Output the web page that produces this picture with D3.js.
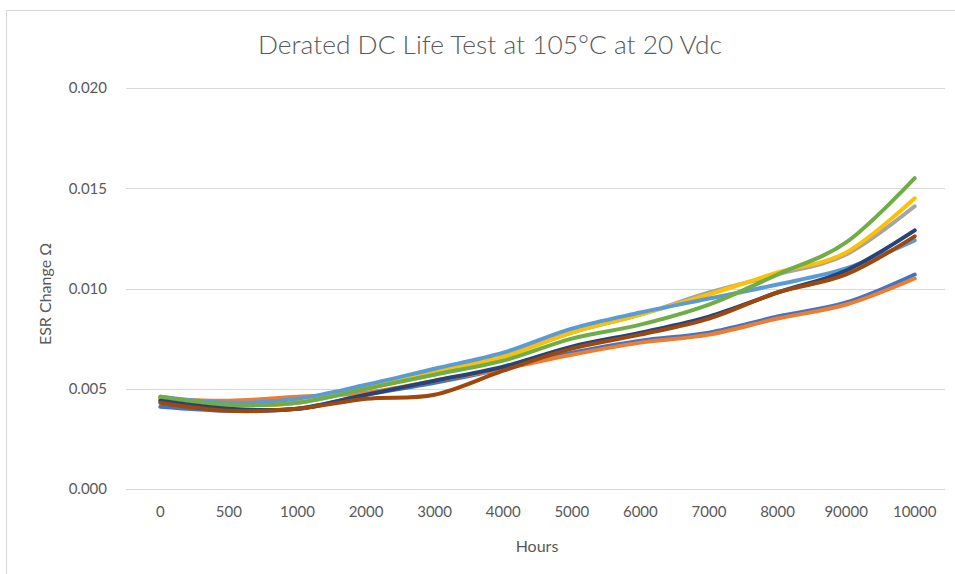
<!DOCTYPE html>
<html><head><meta charset="utf-8">
<script src="https://cdn.jsdelivr.net/npm/d3@7"></script>
<style>body{margin:0;background:#fff;} svg{display:block;} text{font-family:Lato,"Open Sans",sans-serif;fill:#595959;}</style>
</head><body><svg id="c" width="955" height="574"></svg>
<script>
const categories = ["0","500","1000","2000","3000","4000","5000","6000","7000","8000","90000","10000"];
const s1 = [0.0041,0.0039,0.0040,0.0047,0.0053,0.0060,0.0068,0.0074,0.0078,0.0086,0.0093,0.0107];
const s2 = [0.0045,0.0044,0.0046,0.0048,0.0054,0.0060,0.0067,0.0073,0.0077,0.0085,0.0092,0.0105];
const s3 = [0.0045,0.0042,0.0043,0.0050,0.0058,0.0066,0.0078,0.0087,0.0098,0.0107,0.0117,0.0141];
const s4 = [0.0045,0.0042,0.0043,0.0051,0.0059,0.0066,0.0078,0.0087,0.0097,0.0108,0.0118,0.0145];
const s5 = [0.0046,0.0043,0.0045,0.0052,0.0060,0.0068,0.0080,0.0088,0.0095,0.0102,0.0110,0.0124];
const s6 = [0.0046,0.0042,0.0043,0.0050,0.0057,0.0064,0.0075,0.0082,0.0092,0.0107,0.0123,0.0155];
const s7 = [0.0044,0.0040,0.0040,0.0047,0.0054,0.0061,0.0071,0.0078,0.0086,0.0098,0.0109,0.0129];
const s8 = [0.0043,0.0039,0.0040,0.0045,0.0047,0.0059,0.0070,0.0077,0.0085,0.0098,0.0107,0.0126];
const yTicks = [0, 0.005, 0.010, 0.015, 0.020];
const colors = ["#4472C4","#ED7D31","#A5A5A5","#FFC000","#5B9BD5","#70AD47","#264478","#9E480E"];
const allSeries = [s1,s2,s3,s4,s5,s6,s7,s8];

(function(){
const svg = d3.select("#c");
svg.append("rect").attr("x",6.5).attr("y",10.5).attr("width",1000).attr("height",1000)
  .attr("fill","#fff").attr("stroke","#d9d9d9").attr("stroke-width",1);

const pL = 126, pR = 949, pT = 88, pB = 489;
const x = d3.scaleBand().domain(categories).range([pL, pR]);
const y = d3.scaleLinear().domain([0, 0.020]).range([pB, pT]);

svg.append("g").selectAll("line").data(yTicks).join("line")
  .attr("x1", pL).attr("x2", 945)
  .attr("y1", d => Math.round(y(d)) + 0.5).attr("y2", d => Math.round(y(d)) + 0.5)
  .attr("stroke", "#d9d9d9").attr("stroke-width", 1);

const yAxis = d3.axisLeft(y).tickValues(yTicks).tickFormat(d3.format(".3f")).tickSize(0).tickPadding(0);
const gy = svg.append("g").attr("transform", "translate(107,0)").call(yAxis);
gy.select(".domain").remove();
gy.selectAll("text").attr("font-size", 15).attr("fill", "#595959").style("font-family","Lato,'Open Sans',sans-serif");

const xAxis = d3.axisBottom(x).tickSize(0).tickPadding(0);
const gx = svg.append("g").attr("transform", "translate(0,506)").call(xAxis);
gx.select(".domain").remove();
gx.selectAll("text").attr("font-size", 15).attr("fill", "#595959").style("font-family","Lato,'Open Sans',sans-serif");

const line = d3.line()
  .x((d, i) => x(categories[i]) + x.bandwidth() / 2)
  .y(d => y(d))
  .curve(d3.curveCatmullRom.alpha(0));
svg.append("g").selectAll("path").data(allSeries).join("path")
  .attr("d", d => line(d))
  .attr("fill", "none")
  .attr("stroke", (d, i) => colors[i])
  .attr("stroke-width", 4)
  .attr("stroke-linecap", "round")
  .attr("stroke-linejoin", "round");

svg.append("text").attr("x", 490).attr("y", 54).attr("text-anchor", "middle")
  .attr("font-size", 25).attr("font-weight", 300).attr("textLength", 464).attr("lengthAdjust", "spacingAndGlyphs")
  .text("Derated DC Life Test at 105°C at 20 Vdc");
svg.append("text").attr("x", 537).attr("y", 552).attr("text-anchor", "middle")
  .attr("font-size", 16).text("Hours");
svg.append("text").attr("transform", "translate(51,294) rotate(-90)").attr("text-anchor", "middle")
  .attr("font-size", 16).text("ESR Change Ω");
})();
</script></body></html>
